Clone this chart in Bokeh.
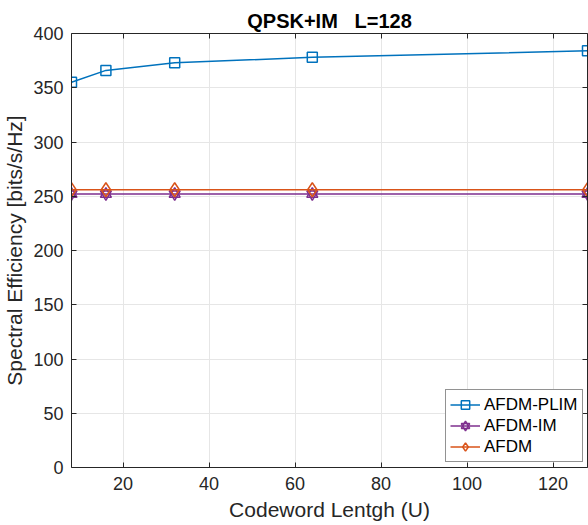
from bokeh.plotting import figure
from bokeh.models import LinearAxis, Range1d, Legend, LegendItem, FixedTicker, CustomJSTickFormatter
from bokeh.embed import file_html
from bokeh.resources import INLINE

# Data
codeword_len = [8, 16, 32, 64, 128]
afdm_plim = [355, 366, 373, 378, 384]
afdm_im = [252, 252, 252, 252, 252]
afdm = [256, 256, 256, 256, 256]
x_ticks = [20, 40, 60, 80, 100, 120]
y_ticks = [0, 50, 100, 150, 200, 250, 300, 350, 400]
title_text = "QPSK+IM\u00a0\u00a0\u00a0L=128"

FONT = "Liberation Sans"
AX = "#262626"

p = figure(width=588, height=525, output_backend="svg", toolbar_location=None,
           x_range=Range1d(8, 128), y_range=Range1d(0, 400),
           min_border_left=71, min_border_right=1, min_border_top=33, min_border_bottom=58)
p.frame_width = 516
p.frame_height = 434

p.title.text = title_text
p.title.align = "center"
p.title.text_font = FONT
p.title.text_font_size = "20px"
p.title.text_font_style = "bold"
p.title.text_color = "#000000"
p.title.standoff = 4

p.background_fill_color = "white"
p.outline_line_color = None

for ax in [p.xaxis[0], p.yaxis[0]]:
    ax.major_tick_in = 5
    ax.major_tick_out = 0
    ax.minor_tick_in = 0
    ax.minor_tick_out = 0
    ax.axis_line_color = AX
    ax.major_tick_line_color = AX
    ax.major_label_text_color = AX
    ax.major_label_text_font = FONT
    ax.major_label_text_font_size = "18px"
    ax.axis_label_text_font = FONT
    ax.axis_label_text_font_size = "21px"
    ax.axis_label_text_font_style = "normal"
    ax.axis_label_text_color = AX

p.xaxis[0].ticker = FixedTicker(ticks=x_ticks)
p.yaxis[0].ticker = FixedTicker(ticks=y_ticks)
p.xaxis[0].axis_label = "Codeword Lentgh (U)"
p.yaxis[0].axis_label = "Spectral Efficiency [bits/s/Hz]"
p.xaxis[0].major_label_standoff = 9
p.yaxis[0].major_label_standoff = 8
p.xaxis[0].axis_label_standoff = 5
p.yaxis[0].axis_label_standoff = 4

blank = CustomJSTickFormatter(code="return ''")
top = LinearAxis(ticker=FixedTicker(ticks=x_ticks), formatter=blank,
                 major_tick_in=5, major_tick_out=0, minor_tick_in=0, minor_tick_out=0,
                 axis_line_color=AX, major_tick_line_color=AX, major_label_standoff=0)
right = LinearAxis(ticker=FixedTicker(ticks=y_ticks), formatter=blank,
                   major_tick_in=5, major_tick_out=0, minor_tick_in=0, minor_tick_out=0,
                   axis_line_color=AX, major_tick_line_color=AX, major_label_standoff=0)
p.add_layout(top, "above")
p.add_layout(right, "right")

p.xgrid.ticker = FixedTicker(ticks=x_ticks)
p.ygrid.ticker = FixedTicker(ticks=y_ticks)
p.grid.grid_line_color = "#e6e6e6"
p.grid.grid_line_width = 1

c1, c2, c3 = "#0072BD", "#7E2F8E", "#D95319"

l1 = p.line(codeword_len, afdm_plim, line_color=c1, line_width=1.5)
m1 = p.scatter(codeword_len, afdm_plim, marker="square", size=10, line_color=c1,
               fill_color=None, line_width=1.5)
l2 = p.line(codeword_len, afdm_im, line_color=c2, line_width=1.5)
m2a = p.scatter(codeword_len, afdm_im, marker="triangle", size=11, line_color=c2,
                fill_color=None, line_width=1.5)
m2b = p.scatter(codeword_len, afdm_im, marker="inverted_triangle", size=11, line_color=c2,
                fill_color=None, line_width=1.5)
l3 = p.line(codeword_len, afdm, line_color=c3, line_width=1.5)
m3 = p.scatter(codeword_len, afdm, marker="diamond", size=14, line_color=c3,
               fill_color=None, line_width=1.5)

legend = Legend(items=[
    LegendItem(label="AFDM-PLIM", renderers=[l1, m1]),
    LegendItem(label="AFDM-IM", renderers=[l2, m2a, m2b]),
    LegendItem(label="AFDM", renderers=[l3, m3]),
], location=(374, 5))
legend.label_text_font = FONT
legend.label_text_font_size = "17px"
legend.label_text_color = "#000000"
legend.border_line_color = "#262626"
legend.border_line_width = 1
legend.background_fill_alpha = 1
legend.glyph_width = 30
legend.glyph_height = 21
legend.label_height = 21
legend.spacing = 0
legend.padding = 4
legend.margin = 0
legend.label_standoff = 4
p.add_layout(legend, "center")

open("out.html", "w").write(file_html(p, INLINE))
